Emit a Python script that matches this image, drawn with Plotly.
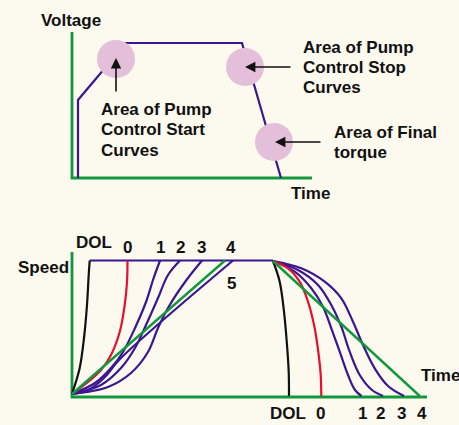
import plotly.graph_objects as go

# ---------------- data (diagram coordinates, y grows downward) ----------------
# Top diagram: voltage vs time
top_axis_x = [72, 72, 312]
top_axis_y = [32, 178, 178]
voltage_x = [78, 78, 126, 242, 281]
voltage_y = [178, 100, 43, 43, 178]
circle_x = [116, 245, 274]
circle_y = [59, 67, 142]
arrow_head_x = [116, 245, 275]
arrow_head_y = [58, 67, 142]
arrow_tail_x = [116, 292, 322]
arrow_tail_y = [93, 67, 142]

# Bottom diagram: speed vs time
speed_axis_x = [72, 72, 427]
speed_axis_y = [252, 397, 397]
plateau_x = [89.7, 273]
plateau_y = [260.5, 260.5]

# start curves (rising)
dol_up_x = [72, 79.7, 84, 87, 88.7, 89.7]
dol_up_y = [394, 368, 338, 305, 275, 260.5]
red_up_x = [72, 88, 101, 111, 119.7, 124.7, 127, 127.5]
red_up_y = [394, 382, 370, 355, 332, 305, 282, 260.5]
p1_up_x = [72, 95, 111, 123, 135, 146, 153, 160]
p1_up_y = [394, 383, 368, 352, 328, 302, 280, 260.5]
p2_up_x = [72, 101, 121, 135, 146, 158, 168, 180]
p2_up_y = [394, 385, 368, 348, 325, 298, 275, 260.5]
p3_up_x = [72, 108, 131, 148, 158, 168, 185, 202]
p3_up_y = [394, 387, 373, 352, 328, 308, 282, 260.5]
green_up_x = [72, 225]
green_up_y = [394, 260.5]
p5_up_x = [72, 88, 104, 120, 233]
p5_up_y = [394, 390, 378, 359, 260.5]

# stop curves (falling)
dol_dn_x = [273, 279.7, 284, 287, 288.7, 289]
dol_dn_y = [261, 281.7, 311.7, 345, 371.7, 396]
red_dn_x = [273, 288, 299.7, 308, 314.7, 318.7, 320.7, 321.3]
red_dn_y = [261, 268.3, 281.7, 301.7, 328.3, 355, 375, 396]
p1_dn_x = [273, 294.7, 311.3, 323, 331.3, 339.7, 348, 355, 361.5]
p1_dn_y = [261, 271.7, 288.3, 306.7, 328.3, 351.7, 375, 390, 396]
p2_dn_x = [273, 298, 318, 331.3, 341.3, 349.7, 359.7, 372, 383]
p2_dn_y = [261, 270, 285, 305, 326.7, 351.7, 375, 390, 396]
p3_dn_x = [273, 301.3, 324.7, 341.3, 353, 363, 374.7, 388, 404]
p3_dn_y = [261, 268.3, 281.7, 298.3, 321.7, 345, 368.3, 386, 396]
green_dn_x = [273, 419.7]
green_dn_y = [261, 396]

# text
start_lines = ["Area of Pump", "Control Start", "Curves"]
stop_lines = ["Area of Pump", "Control Stop", "Curves"]
final_lines = ["Area of Final", "torque"]
top_labels = ["DOL", "0", "1", "2", "3", "4", "5"]
top_label_x = [94, 127, 160, 180, 201, 231, 231.5]
top_label_y = [242, 247, 247, 247, 247, 247, 283]
bot_labels = ["DOL", "0", "1", "2", "3", "4"]
bot_label_x = [287.5, 320, 362.3, 380.7, 401.7, 421.7]
bot_label_y = [413, 413, 413, 413, 413, 413]

# ---------------- styles ----------------
GREEN = "#12983c"
PURPLE = "#3a1690"
RED = "#e4102e"
BLACK = "#111111"
PINK = "#e3bfd9"
BG = "#fcf9ef"
FONT = "Liberation Sans, Arial, sans-serif"

fig = go.Figure()


def line(x, y, color, width=2.2, shape="linear"):
    fig.add_trace(go.Scatter(x=x, y=y, mode="lines",
                             line=dict(color=color, width=width, shape=shape),
                             hoverinfo="skip", showlegend=False))


# top diagram
line(top_axis_x, top_axis_y, GREEN, 2.8)
line(voltage_x, voltage_y, PURPLE, 2.2)
fig.add_trace(go.Scatter(x=circle_x, y=circle_y, mode="markers",
                         marker=dict(size=38, color=PINK, line=dict(width=0)),
                         hoverinfo="skip", showlegend=False))

# bottom diagram
line(speed_axis_x, speed_axis_y, GREEN, 2.8)
line(plateau_x, plateau_y, PURPLE, 2.2)
for xs, ys, col in [
    (p1_dn_x, p1_dn_y, PURPLE), (p2_dn_x, p2_dn_y, PURPLE), (p3_dn_x, p3_dn_y, PURPLE),
    (p1_up_x, p1_up_y, PURPLE), (p2_up_x, p2_up_y, PURPLE), (p3_up_x, p3_up_y, PURPLE),
    (p5_up_x, p5_up_y, PURPLE),
    (dol_up_x, dol_up_y, BLACK), (dol_dn_x, dol_dn_y, BLACK),
    (red_up_x, red_up_y, RED), (red_dn_x, red_dn_y, RED),
]:
    line(xs, ys, col, 2.2, "spline")
line(green_up_x, green_up_y, GREEN, 2.4)
line(green_dn_x, green_dn_y, GREEN, 2.4)

ann = []


def txt(s, x, y, anchor="left"):
    ann.append(dict(text=s, x=x, y=y, xref="x", yref="y", showarrow=False,
                    xanchor=anchor, yanchor="middle",
                    font=dict(family=FONT, size=17, color="#111111")))


txt("<b>Voltage</b>", 39, 20)
for i, s in enumerate(start_lines):
    txt(f"<b>{s}</b>", 99, 109 + 20.5 * i)
for i, s in enumerate(stop_lines):
    txt(f"<b>{s}</b>", 301, 47 + 20 * i)
for i, s in enumerate(final_lines):
    txt(f"<b>{s}</b>", 332, 132 + 20 * i)
txt("<b>Time</b>", 289, 193)
txt("<b>Speed</b>", 16, 267)
txt("<b>Time</b>", 419, 375)
for s, x, y in zip(top_labels, top_label_x, top_label_y):
    txt(f"<b>{s}</b>", x, y, "center")
for s, x, y in zip(bot_labels, bot_label_x, bot_label_y):
    txt(f"<b>{s}</b>", x, y, "center")

for hx, hy, tx, ty in zip(arrow_head_x, arrow_head_y, arrow_tail_x, arrow_tail_y):
    ann.append(dict(x=hx, y=hy, ax=tx, ay=ty, xref="x", yref="y", axref="x", ayref="y",
                    text="", showarrow=True, arrowhead=2, arrowsize=1.3,
                    arrowwidth=1.6, arrowcolor="#111111"))

fig.update_layout(
    width=459, height=425,
    margin=dict(l=0, r=0, t=0, b=0),
    paper_bgcolor=BG, plot_bgcolor="rgba(0,0,0,0)",
    xaxis=dict(range=[0, 459], visible=False, fixedrange=True),
    yaxis=dict(range=[425, 0], visible=False, fixedrange=True),
    annotations=ann,
    showlegend=False,
)

fig.write_html(
    "out.html",
    config={"displayModeBar": False},
    post_script=("document.body.style.margin='0';"
                 "document.body.style.overflow='hidden';"
                 "document.body.style.background='" + BG + "';"),
)
